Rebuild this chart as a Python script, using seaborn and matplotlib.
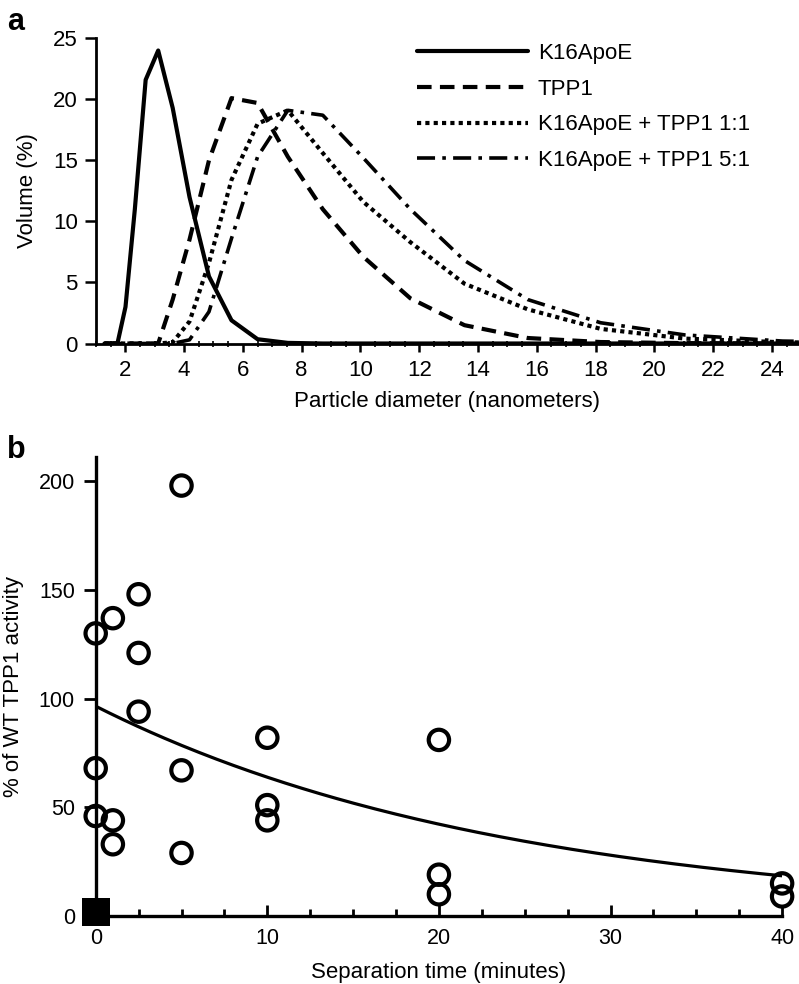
import numpy as np
import pandas as pd
import seaborn as sns
import matplotlib.pyplot as plt
from matplotlib.ticker import MultipleLocator

sns.set_style("ticks", rc={"text.color": "black", "axes.labelcolor": "black",
                           "xtick.color": "black", "ytick.color": "black",
                           "axes.edgecolor": "black"})
plt.rcParams['font.family'] = ['Liberation Sans', 'DejaVu Sans']

# ---- panel a: DLS size distribution (volume %) ----
size_nm = [1.294, 1.499, 1.736, 2.010, 2.328, 2.696, 3.122, 3.615, 4.187, 4.849,
           5.615, 6.503, 7.531, 8.721, 10.10, 11.70, 13.54, 15.69, 18.17, 21.04,
           24.36, 28.21]
vol_k16apoe = [0, 0, 0, 3.0, 11.0, 21.6, 24.0, 19.3, 12.0, 5.5,
               1.9, 0.35, 0.05, 0, 0, 0, 0, 0, 0, 0, 0, 0]
vol_tpp1 = [0, 0, 0, 0, 0, 0, 0, 3.6, 8.5, 15.0,
            20.1, 19.7, 15.3, 11.0, 7.1, 3.7, 1.5, 0.45, 0.12, 0.03, 0, 0]
vol_mix11 = [0, 0, 0, 0, 0, 0, 0, 0.1, 1.8, 6.6,
             13.4, 18.0, 19.1, 15.6, 11.6, 8.3, 4.9, 2.8, 1.2, 0.4, 0.1, 0.03]
vol_mix51 = [0, 0, 0, 0, 0, 0, 0, 0, 0.3, 2.6,
             8.6, 15.3, 19.1, 18.7, 15.2, 11.0, 6.8, 3.6, 1.7, 0.7, 0.2, 0.05]
series_names = ["K16ApoE", "TPP1", "K16ApoE + TPP1 1:1", "K16ApoE + TPP1 5:1"]

# ---- panel b: TPP1 activity after separation ----
sep_time = [0, 0, 0, 1, 1, 1, 2.5, 2.5, 2.5, 5, 5, 5, 10, 10, 10, 20, 20, 20, 40, 40]
activity = [130, 68, 46, 137, 44, 33, 148, 121, 94, 198, 67, 29, 82, 51, 44, 81, 19, 10, 15, 9]
control_time = [0]
control_activity = [2]
# exponential fit drawn in the figure
fit_y0 = 96.5
fit_k = 0.0413

FS = 16
W, H = 799, 984
fig = plt.figure(figsize=(W / 100, H / 100), dpi=100)

# ---------------- panel a ----------------
ax1 = fig.add_axes([95.8 / W, 1 - 343.5 / H, (W - 95.8) / W, 305.2 / H])
df_a = pd.DataFrame({
    "size": size_nm * 4,
    "vol": vol_k16apoe + vol_tpp1 + vol_mix11 + vol_mix51,
    "sample": sum([[n] * len(size_nm) for n in series_names], []),
})
styles = {
    "K16ApoE": dict(linestyle="-", lw=3.0),
    "TPP1": dict(linestyle=(0, (3.5, 2)), lw=3.0),
    "K16ApoE + TPP1 1:1": dict(linestyle=(0, (1, 1)), lw=3.0),
    "K16ApoE + TPP1 5:1": dict(linestyle=(0, (5, 2, 1, 2)), lw=2.6),
}
for name in series_names:
    sub = df_a[df_a["sample"] == name]
    sns.lineplot(data=sub, x="size", y="vol", ax=ax1, color="black",
                 label=name, **styles[name])

ax1.set_xlim(1, 1 + (W - 95.8) / 29.4)
ax1.set_ylim(0, 25)
ax1.xaxis.set_minor_locator(MultipleLocator(0.5))
ax1.yaxis.set_major_locator(MultipleLocator(5))
ax1.set_xticks(range(2, 25, 2))
ax1.tick_params(axis="x", which="major", direction="out", length=6, width=1.8,
                labelsize=FS, pad=6)
ax1.tick_params(axis="x", which="minor", direction="inout", length=4, width=1.2)
ax1.tick_params(axis="y", direction="out", length=8, width=1.8, labelsize=FS, pad=5)
sns.despine(ax=ax1)
for sp in ("left", "bottom"):
    ax1.spines[sp].set_linewidth(2.0)
ax1.set_xlabel("Particle diameter (nanometers)", fontsize=FS)
ax1.set_ylabel("Volume (%)", fontsize=FS)
ax1.xaxis.set_label_coords(0.5, -0.157)
ax1.yaxis.set_label_coords(-0.082, 0.5)
ax1.legend(loc="upper left", bbox_to_anchor=(416.7 / W, 1 - 43 / H),
           bbox_transform=fig.transFigure, frameon=False, fontsize=FS,
           handlelength=5.0, handletextpad=0.45, labelspacing=0.66,
           borderpad=0, borderaxespad=0)

# ---------------- panel b ----------------
ax2 = fig.add_axes([95.7 / W, 1 - 916 / H, 686.4 / W, 458.7 / H])
t_fit = np.linspace(0, 40, 200)
sns.lineplot(x=t_fit, y=fit_y0 * np.exp(-fit_k * t_fit), ax=ax2, color="black", lw=2.3)
sns.scatterplot(x=sep_time, y=activity, ax=ax2, marker="o", s=215,
                facecolor="none", edgecolor="black", linewidth=3.0, clip_on=False, zorder=5)
sns.scatterplot(x=control_time, y=control_activity, ax=ax2, marker="s", s=390,
                color="black", linewidth=0, clip_on=False, zorder=6)

ax2.set_xlim(0, 40)
ax2.set_ylim(0, 211)
ax2.set_xticks([0, 10, 20, 30, 40])
ax2.xaxis.set_minor_locator(MultipleLocator(2.5))
ax2.set_yticks([0, 50, 100, 150, 200])
ax2.tick_params(axis="x", which="major", direction="in", length=8, width=2.0,
                labelsize=FS - 0.5, pad=9)
ax2.tick_params(axis="x", which="minor", direction="in", length=5, width=2.0)
ax2.tick_params(axis="y", direction="out", length=9, width=2.0, labelsize=FS - 0.5, pad=6)
sns.despine(ax=ax2)
for sp in ("left", "bottom"):
    ax2.spines[sp].set_linewidth(2.4)
ax2.set_xlabel("Separation time (minutes)", fontsize=FS)
ax2.set_ylabel("% of WT TPP1 activity", fontsize=FS)
ax2.xaxis.set_label_coords(0.5, -0.1)
ax2.yaxis.set_label_coords(-0.105, 0.5)

fig.text(7 / W, 1 - 30 / H, "a", fontsize=22, fontweight="bold", va="baseline")
fig.text(7 / W, 1 - 458 / H, "b", fontsize=22, fontweight="bold", va="baseline")

fig.savefig("out.png", dpi=100)
